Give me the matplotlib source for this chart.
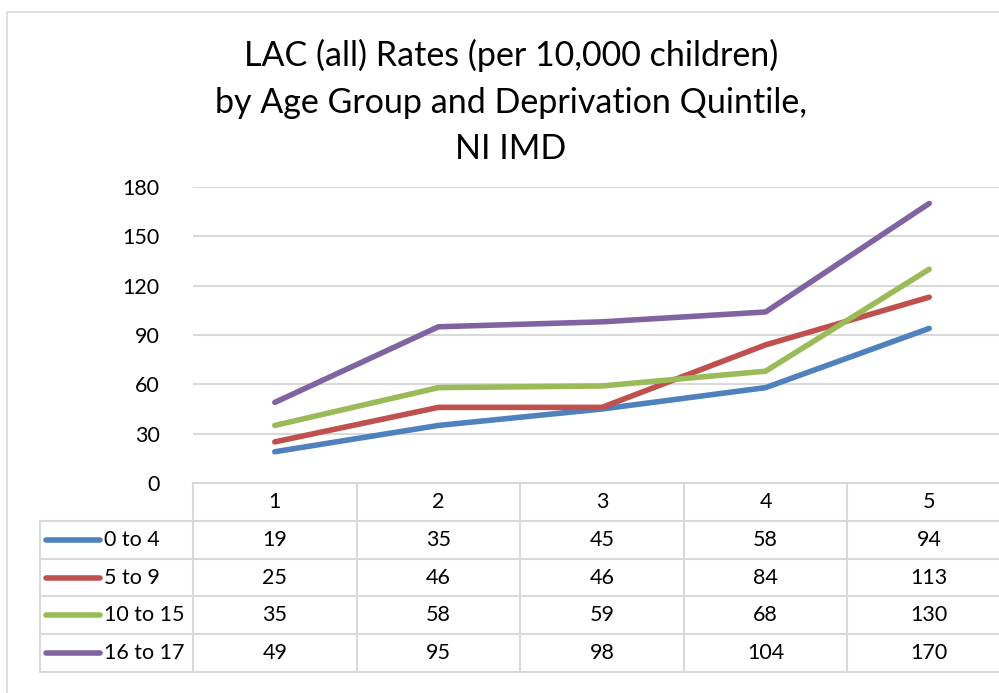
import matplotlib
matplotlib.use("Agg")
from matplotlib import pyplot as plt
from matplotlib.patches import Rectangle

plt.rcParams['font.family'] = ['Lato', 'DejaVu Sans']

# data
quintiles = ["1", "2", "3", "4", "5"]
age_groups = ["0 to 4", "5 to 9", "10 to 15", "16 to 17"]
rates_0_4 = [19, 35, 45, 58, 94]
rates_5_9 = [25, 46, 46, 84, 113]
rates_10_15 = [35, 58, 59, 68, 130]
rates_16_17 = [49, 95, 98, 104, 170]
colors = ["#4F81BD", "#C0504D", "#9BBB59", "#8064A2"]
y_ticks = [0, 30, 60, 90, 120, 150, 180]

series = [rates_0_4, rates_5_9, rates_10_15, rates_16_17]
grid_col = "#D9D9D9"
W, H = 999, 693
fs = 15.5

fig = plt.figure(figsize=(W / 100, H / 100), dpi=100)

# chart frame
fig.patches.append(Rectangle((7 / W, -0.1), 1.2, (H - 12) / H + 0.1, transform=fig.transFigure,
                             fill=False, edgecolor=grid_col, lw=1.2))

# title
fig.text(511 / W, 1 - 102 / H, "LAC (all) Rates (per 10,000 children)\nby Age Group and Deprivation Quintile,\nNI IMD",
         ha="center", va="center", fontsize=24.5, linespacing=1.55, color="black")

# main plot
x0, x1 = 193, 1011
ax = fig.add_axes([x0 / W, (H - 483) / H, (x1 - x0) / W, (483 - 187) / H])
xs = list(range(1, len(quintiles) + 1))
for vals, c in zip(series, colors):
    ax.plot(xs, vals, color=c, lw=4, solid_capstyle="round", zorder=3)
ax.set_xlim(0.5, len(quintiles) + 0.5)
ax.set_ylim(0, 180)
ax.set_yticks(y_ticks)
ax.tick_params(axis="y", length=0, pad=24, labelsize=fs)
ax.set_xticks([])
for s in ax.spines.values():
    s.set_visible(False)
ax.grid(axis="y", color=grid_col, lw=1.5)
ax.set_axisbelow(True)

# data table
tab = fig.add_axes([x0 / W, (H - 672) / H, (x1 - x0) / W, (672 - 483) / H])
tab.set_xlim(0.5, len(quintiles) + 0.5)
tab.set_ylim(len(series) + 1, 0)
tab.axis("off")
left = 0.5 - (x0 - 40) / ((x1 - x0) / len(quintiles))
nrows = len(series) + 1
kw = dict(color=grid_col, lw=1.5, clip_on=False)
tab.plot([0.5, len(quintiles) + 0.5], [0, 0], **kw)
for r in range(1, nrows + 1):
    tab.plot([left, len(quintiles) + 0.5], [r, r], **kw)
tab.plot([left, left], [1, nrows], **kw)
for i in range(len(quintiles) + 1):
    tab.plot([i + 0.5, i + 0.5], [0, nrows], **kw)

for i, q in enumerate(quintiles):
    tab.text(i + 1, 0.5, q, ha="center", va="center", fontsize=fs)
unit = (x1 - x0) / len(quintiles)
for r, (name, vals, c) in enumerate(zip(age_groups, series, colors), start=1):
    tab.plot([left + 6 / unit, left + 60 / unit], [r + 0.5, r + 0.5], color=c, lw=4,
             solid_capstyle="round", clip_on=False)
    tab.text(left + 64 / unit, r + 0.5, name, ha="left", va="center", fontsize=fs)
    for i, v in enumerate(vals):
        tab.text(i + 1, r + 0.5, str(v), ha="center", va="center", fontsize=fs)

fig.savefig("out.png", dpi=100)
